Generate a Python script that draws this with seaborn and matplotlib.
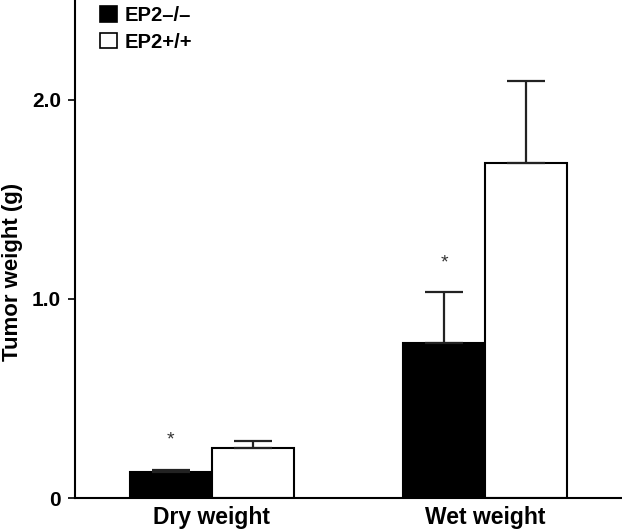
import matplotlib
matplotlib.use("Agg")
import matplotlib.pyplot as plt
import seaborn as sns
import pandas as pd
from matplotlib.patches import Patch

categories = ["Dry weight", "Wet weight"]
genotypes = ["EP2\u2013/\u2013", "EP2+/+"]
means_ko = [0.13, 0.777]
means_wt = [0.25, 1.68]
err_ko = [0.012, 0.255]
err_wt = [0.036, 0.415]
significant_ko = [True, True]
ytick_vals = [0, 1.0, 2.0]
ytick_labels = ["0", "1.0", "2.0"]

df = pd.DataFrame({
    "category": categories * 2,
    "genotype": [genotypes[0]] * 2 + [genotypes[1]] * 2,
    "weight": means_ko + means_wt,
    "err": err_ko + err_wt,
})

sns.set_theme(style="ticks")
plt.rcParams["font.family"] = ["Liberation Sans", "DejaVu Sans"]
plt.rcParams["font.weight"] = "bold"
for k in ["text.color", "axes.labelcolor", "xtick.color", "ytick.color", "axes.edgecolor"]:
    plt.rcParams[k] = "black"

fig = plt.figure(figsize=(6.22, 5.31), dpi=100)
ax = fig.add_axes([75 / 622, 33 / 531, 547 / 622, 498 / 531])

palette = {genotypes[0]: "black", genotypes[1]: "white"}
sns.barplot(data=df, x="category", y="weight", hue="genotype", order=categories,
            hue_order=genotypes, palette=palette, edgecolor="black", linewidth=1.5,
            width=0.6, errorbar=None, legend=False, ax=ax)

# error bars (upper only) drawn at bar centres
for p in list(ax.patches):
    x = p.get_x() + p.get_width() / 2
    h = p.get_height()
    row = df[(df["weight"] == h)]
    e = float(row["err"].iloc[0])
    ax.errorbar([x], [h], yerr=[[0], [e]], fmt="none", ecolor="#222222",
                elinewidth=1.6, capsize=14, capthick=1.6, zorder=1)
    if row["genotype"].iloc[0] == genotypes[0]:
        idx = categories.index(row["category"].iloc[0])
        if significant_ko[idx]:
            ax.text(x, h + e + 0.15, "*", ha="center", va="center",
                    fontsize=14, color="#333333", fontweight="normal")

ax.set_xlim(-0.5, 1.5)
ax.set_ylim(0, 2.5)
ax.set_yticks(ytick_vals)
ax.set_yticklabels(ytick_labels, fontsize=15, fontweight="bold")
ax.tick_params(axis="y", length=5, width=1.2, direction="out", pad=5)
ax.tick_params(axis="x", length=0, pad=6)
for lab in ax.get_xticklabels():
    lab.set_fontsize(16.5)
    lab.set_fontweight("bold")
ax.set_xlabel("")
ax.set_ylabel("Tumor weight (g)", fontsize=16, fontweight="bold", va="center")
ax.yaxis.set_label_coords(-0.1143, 0.453)
sns.despine(ax=ax)
for s in ["left", "bottom"]:
    ax.spines[s].set_linewidth(1.5)
    ax.spines[s].set_color("black")

handles = [Patch(facecolor="black", edgecolor="black", linewidth=1.2),
           Patch(facecolor="white", edgecolor="black", linewidth=1.2)]
leg = ax.legend(handles, genotypes, loc="upper left",
                bbox_to_anchor=(25 / 547, 1 - 6 / 498), frameon=False,
                borderpad=0, borderaxespad=0, handlelength=0.82, handleheight=0.82,
                handletextpad=0.4, labelspacing=0.38,
                prop={"size": 14.5, "weight": "bold"})

fig.savefig("out.png", dpi=100)
